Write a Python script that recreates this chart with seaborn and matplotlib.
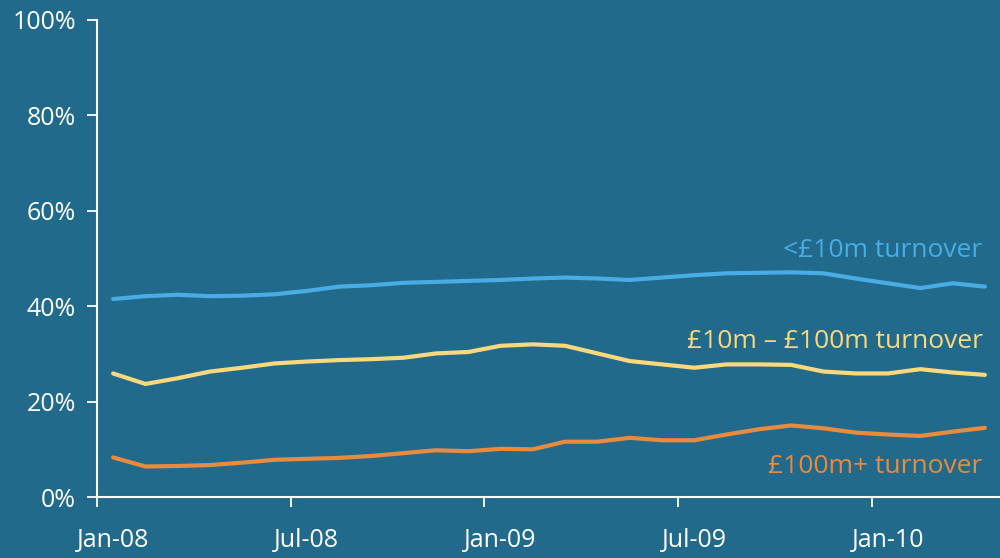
import matplotlib
matplotlib.use("Agg")
import matplotlib.pyplot as plt
import seaborn as sns
import pandas as pd

# Monthly share of lending by firm size (per cent), Jan-08 to Apr-10
months = [
    "Jan-08", "Feb-08", "Mar-08", "Apr-08", "May-08", "Jun-08",
    "Jul-08", "Aug-08", "Sep-08", "Oct-08", "Nov-08", "Dec-08",
    "Jan-09", "Feb-09", "Mar-09", "Apr-09", "May-09", "Jun-09",
    "Jul-09", "Aug-09", "Sep-09", "Oct-09", "Nov-09", "Dec-09",
    "Jan-10", "Feb-10", "Mar-10", "Apr-10",
]
small = [41.5, 42.1, 42.4, 42.1, 42.2, 42.5, 43.2, 44.1, 44.4, 44.9,
         45.1, 45.3, 45.5, 45.8, 46.0, 45.8, 45.5, 46.0, 46.5, 46.9,
         47.0, 47.1, 46.9, 45.8, 44.8, 43.8, 44.8, 44.1]
medium = [25.9, 23.7, 24.9, 26.3, 27.1, 28.0, 28.4, 28.7, 28.9, 29.2,
          30.1, 30.4, 31.7, 32.0, 31.7, 30.1, 28.5, 27.8, 27.1, 27.8,
          27.8, 27.7, 26.3, 25.9, 25.9, 26.8, 26.1, 25.6]
large = [8.3, 6.4, 6.5, 6.7, 7.2, 7.8, 8.0, 8.2, 8.6, 9.2,
         9.8, 9.6, 10.1, 10.0, 11.6, 11.6, 12.4, 11.9, 11.9, 13.1,
         14.2, 15.0, 14.4, 13.5, 13.1, 12.8, 13.7, 14.5]

series_names = ["<£10m turnover", "£10m – £100m turnover", "£100m+ turnover"]
series_colors = ["#4aace4", "#fbd87c", "#ea8a3d"]
label_values = [51.7, 32.6, 6.5]  # vertical anchor of each series label

tick_months = ["Jan-08", "Jul-08", "Jan-09", "Jul-09", "Jan-10"]
y_ticks = [0, 20, 40, 60, 80, 100]

bg = "#216a8b"
fg = "white"

sns.set_theme(style="white")
plt.rcParams["font.family"] = ["Open Sans", "DejaVu Sans"]

df = pd.DataFrame({
    "month": list(range(len(months))) * 3,
    "share": small + medium + large,
    "series": sum([[n] * len(months) for n in series_names], []),
})

fig = plt.figure(figsize=(10, 5.58), dpi=100, facecolor=bg)
ax = fig.add_axes([0.097, 0.1093, 0.904, 0.8549])
ax.set_facecolor(bg)

sns.lineplot(data=df, x="month", y="share", hue="series",
             hue_order=series_names, palette=series_colors,
             linewidth=3.0, legend=False, ax=ax)

ax.set_xlim(-0.5, len(months) - 0.5)
ax.set_ylim(0, 100)

for sp in ["top", "right"]:
    ax.spines[sp].set_visible(False)
for sp in ["left", "bottom"]:
    ax.spines[sp].set_color(fg)
    ax.spines[sp].set_linewidth(1.5)

# y axis
ax.set_yticks(y_ticks)
ax.set_yticklabels([f"{v}%" for v in y_ticks])
ax.tick_params(axis="y", direction="out", length=7, width=1.3, color=fg,
               labelcolor=fg, labelsize=18, pad=8, left=True)

# x axis: labels on month centres, tick marks on half-year boundaries
pos = [months.index(m) for m in tick_months]
ax.set_xticks(pos)
ax.set_xticklabels(tick_months)
ax.set_xticks([p - 0.5 for p in pos], minor=True)
ax.tick_params(axis="x", which="major", length=0, labelcolor=fg,
               labelsize=18, pad=22)
ax.tick_params(axis="x", which="minor", direction="out", length=7,
               width=1.3, color=fg, bottom=True)
ax.set_xlabel("")
ax.set_ylabel("")
ax.grid(False)

for name, col, yv in zip(series_names, series_colors, label_values):
    ax.text(26.93, yv, name, color=col, fontsize=19,
            ha="right", va="center")

fig.savefig("out.png", dpi=100, facecolor=bg)
